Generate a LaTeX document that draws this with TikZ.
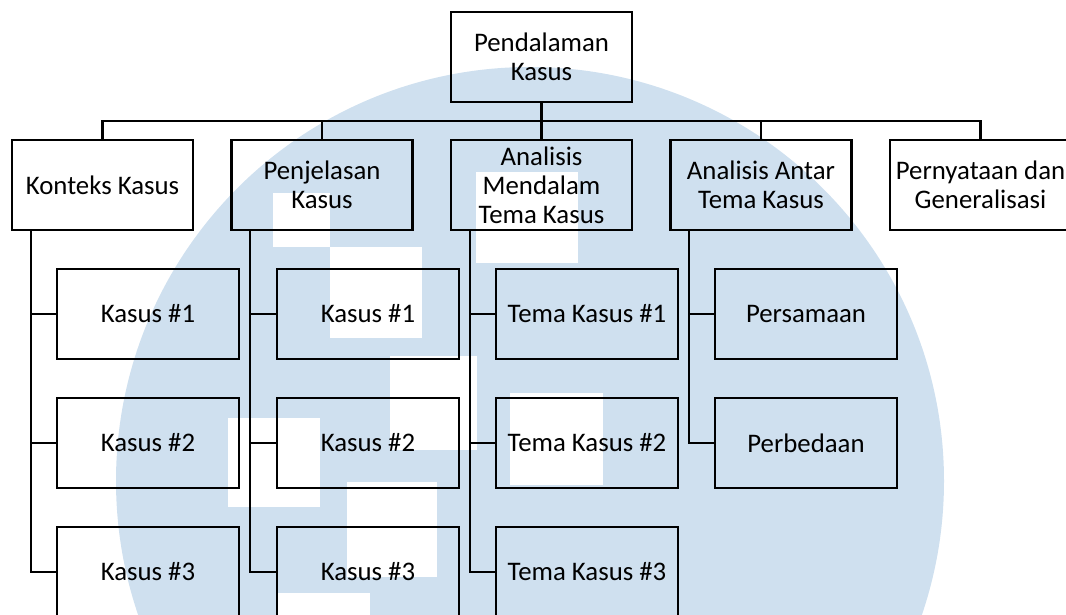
\documentclass[tikz,border=0pt]{standalone}
\usepackage{fontspec}
\setmainfont{Carlito}
\definecolor{wmblue}{RGB}{207,224,239}
\tikzset{
  box/.style={draw=black, line width=2.6pt, minimum width=181pt, minimum height=90pt,
    inner sep=0pt, align=center, font=\fontsize{26.8}{29}\selectfont},
  kid/.style={box, minimum width=182pt},
  conn/.style={draw=black, line width=2.4pt},
  wmark/.style={fill=wmblue},
  wgap/.style={fill=white}
}
\begin{document}
\begin{tikzpicture}[x=1pt, y=-1pt]
\useasboundingbox (0,0) rectangle (1066,615);
\clip (0,0) rectangle (1066,615);
% watermark
\fill[wmark] (530,481) circle (414pt);
\fill[wgap] (330,247) rectangle (422,338);
\fill[wgap] (476,172) rectangle (578,263);
\fill[wgap] (390,356) rectangle (477,450);
\fill[wgap] (228,418) rectangle (320,507);
\fill[wgap] (347,482) rectangle (437,577);
\fill[wgap] (278,593) rectangle (370,615);
\fill[wgap] (510,393) rectangle (603,485);
\fill[wgap] (273,193) rectangle (330,247);
% level 0
\node[box] (top) at (541.5,57) {Pendalaman\\Kasus};
% level 1
\node[box] (kon) at (102.5,185) {Konteks Kasus};
\node[box] (pen) at (322,185) {Penjelasan\\Kasus};
\node[box] (amt) at (541.5,185) {Analisis\\Mendalam\\Tema Kasus};
\node[box] (aat) at (761,185) {Analisis Antar\\Tema Kasus};
\node[box] (per) at (980.5,185) {Pernyataan dan\\Generalisasi};
% level 2
\node[kid] (k11) at (148,314) {Kasus \#1};
\node[kid] (k12) at (148,443) {Kasus \#2};
\node[kid] (k13) at (148,572) {Kasus \#3};
\node[kid] (k21) at (368,314) {Kasus \#1};
\node[kid] (k22) at (368,443) {Kasus \#2};
\node[kid] (k23) at (368,572) {Kasus \#3};
\node[kid] (t1) at (587,314) {Tema Kasus \#1};
\node[kid] (t2) at (587,443) {Tema Kasus \#2};
\node[kid] (t3) at (587,572) {Tema Kasus \#3};
\node[kid] (ps) at (806,314) {Persamaan};
\node[kid] (pb) at (806,443) {Perbedaan};
% connectors level 0 -> 1
\foreach \n in {kon,pen,amt,aat,per}{
  \draw[conn] (top.south) -- ++(0,18) -| (\n.north);
}
% connectors level 1 -> 2
\foreach \p/\c in {kon/k11,kon/k12,kon/k13,pen/k21,pen/k22,pen/k23,amt/t1,amt/t2,amt/t3,aat/ps,aat/pb}{
  \draw[conn] ([xshift=20pt]\p.south west) |- (\c.west);
}
\end{tikzpicture}
\end{document}
